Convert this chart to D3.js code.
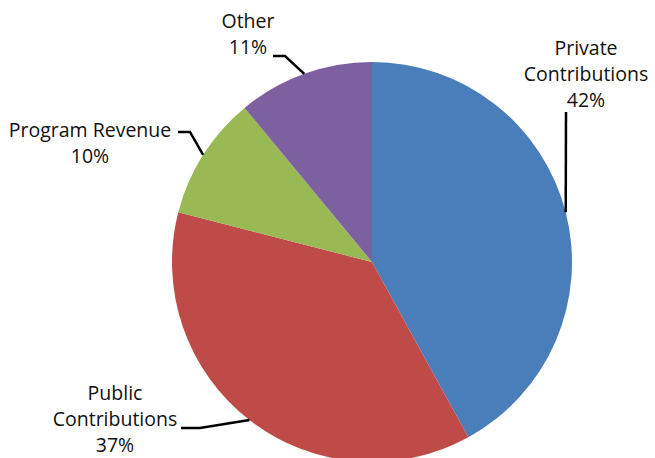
<!DOCTYPE html>
<html><head><meta charset="utf-8">
<script src="https://cdn.jsdelivr.net/npm/d3@7"></script>
<style>html,body{margin:0;padding:0;background:#fff;}svg{display:block;}text{font-variant-ligatures:none;}</style>
</head><body>
<svg id="c" width="655" height="458"></svg>
<script>
const categories = ["Private Contributions", "Public Contributions", "Program Revenue", "Other"];
const values = [42, 37, 10, 11];
const colors = ["#4A7EBB", "#BE4B48", "#98B954", "#7D60A0"];

// label layout (lines, anchor position, leader elbow)
const labelLayout = [
  {lines:["Private","Contributions","42%"], x:586, y:55, anchor:"middle", elbow:[[566,112]]},
  {lines:["Public","Contributions","37%"], x:115, y:400, anchor:"middle", elbow:[[181,428],[200,428]]},
  {lines:["Program Revenue","10%"], x:90, y:137, anchor:"middle", elbow:[[178,132],[190,132]]},
  {lines:["Other","11%"], x:248, y:28, anchor:"middle", elbow:[[273,56],[285,56]]}
];

const svg = d3.select("#c");
const cx = 372, cy = 262, r = 200;
const g = svg.append("g").attr("transform", `translate(${cx},${cy})`);
const pie = d3.pie().sort(null).value(d => d)(values);
const arc = d3.arc().innerRadius(0).outerRadius(r);
g.selectAll("path.s").data(pie).enter().append("path")
  .attr("d", arc).attr("fill", (d,i) => colors[i]);

const font = "'Open Sans', sans-serif";
pie.forEach((d,i) => {
  const L = labelLayout[i];
  const mid = (d.startAngle + d.endAngle)/2;
  const px = cx + r*Math.sin(mid), py = cy - r*Math.cos(mid);
  const pts = L.elbow.concat([[px,py]]);
  svg.append("path").attr("d", d3.line()(pts))
    .attr("fill","none").attr("stroke","#000").attr("stroke-width",2.5);
  const t = svg.append("text").attr("font-family", font).attr("font-size", 19.5)
    .attr("fill","#111").attr("text-anchor", L.anchor);
  L.lines.forEach((ln, k) => {
    t.append("tspan").attr("x", L.x).attr("y", L.y + k*26).text(ln);
  });
});
</script>
</body></html>
